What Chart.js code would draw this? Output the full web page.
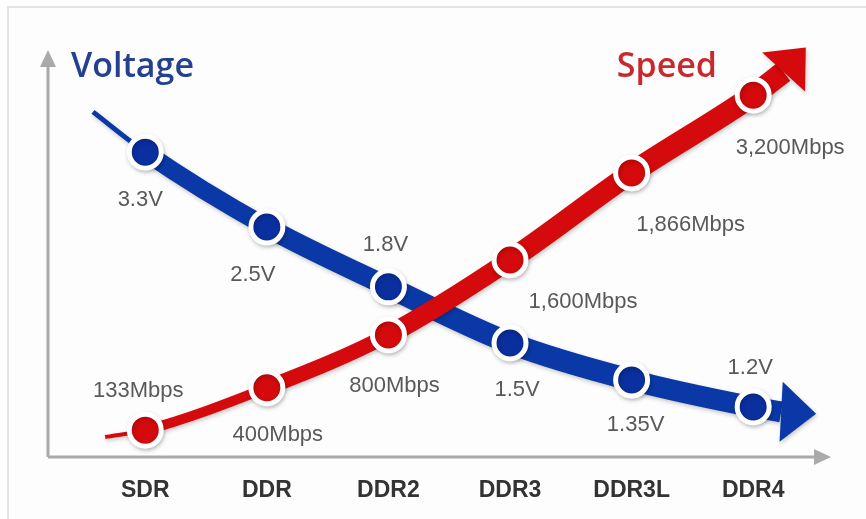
<!DOCTYPE html>
<html>
<head>
<meta charset="utf-8">
<script src="https://cdn.jsdelivr.net/npm/chart.js@4.4.1/dist/chart.umd.min.js"></script>
<style>
  html, body { margin: 0; padding: 0; background: #fff; }
  #wrap { position: relative; width: 866px; height: 519px; overflow: hidden; }
  #frame { position: absolute; left: 7px; top: 6px; width: 900px; height: 600px;
           border-left: 2px solid #e3e3e3; border-top: 2px solid #e3e3e3; background: #fdfdfd; }
  #myChart { position: absolute; left: 0; top: 0; }
</style>
</head>
<body>
<div id="wrap">
  <div id="frame"></div>
  <canvas id="myChart" width="866" height="519"></canvas>
</div>
<script>
const categories = ['SDR', 'DDR', 'DDR2', 'DDR3', 'DDR3L', 'DDR4'];
const voltageLabels = ['3.3V', '2.5V', '1.8V', '1.5V', '1.35V', '1.2V'];
const speedLabels = ['133Mbps', '400Mbps', '800Mbps', '1,600Mbps', '1,866Mbps', '3,200Mbps'];
// heights of the dots as drawn (no units: 0 = x axis, 100 = tip of the y axis)
const voltageLevels = [74.9, 56.5, 41.8, 28.0, 18.9, 12.3];
const speedLevels = [6.6, 17.0, 30.0, 48.4, 69.8, 88.9];
// start of each ribbon and base of its arrow head [x, level]
const voltageTail = [-0.43, 84.8];
const voltageHead = [5.23, 11.1];
const speedTail = [-0.33, 4.9];
const speedHead = [5.25, 94.6];

function buildPoints(levels, labels, tail, head) {
    let pts = [{x: tail[0], y: tail[1]}];
    levels.forEach((v, i) => pts.push({x: i, y: v, label: labels[i]}));
    pts.push({x: head[0], y: head[1]});
    return pts;
}

const ctx = document.getElementById('myChart');

const decor = {
    id: 'decor',
    beforeDatasetsDraw(chart) {
        const c = chart.ctx, a = chart.chartArea;
        c.save();
        c.strokeStyle = '#aaaaaa';
        c.fillStyle = '#aaaaaa';
        c.lineWidth = 3;
        c.beginPath();
        c.moveTo(a.left, a.bottom);
        c.lineTo(a.left, a.top + 14);
        c.moveTo(a.left, a.bottom);
        c.lineTo(a.right - 14, a.bottom);
        c.stroke();
        c.beginPath();
        c.moveTo(a.left, a.top);
        c.lineTo(a.left - 8, a.top + 17);
        c.lineTo(a.left + 8, a.top + 17);
        c.closePath();
        c.moveTo(a.right, a.bottom);
        c.lineTo(a.right - 17, a.bottom - 8);
        c.lineTo(a.right - 17, a.bottom + 8);
        c.closePath();
        c.fill();
        // series names
        c.font = '600 34px "Open Sans", sans-serif';
        c.textBaseline = 'middle';
        c.textAlign = 'left';
        c.fillStyle = '#24408f';
        c.fillText(chart.data.datasets[1].label, a.left + 23, a.top + 17);
        c.textAlign = 'right';
        c.fillStyle = '#c8282e';
        c.fillText(chart.data.datasets[0].label, a.right - 114, a.top + 17);
        c.restore();
    },
    beforeDatasetDraw(chart) {
        const c = chart.ctx;
        c.save();
        c.shadowColor = 'rgba(0,0,0,0.22)';
        c.shadowBlur = 4;
        c.shadowOffsetX = 1;
        c.shadowOffsetY = 2;
    },
    afterDatasetDraw(chart, args) {
        const c = chart.ctx;
        const pts = args.meta.data;
        const ds = chart.data.datasets[args.index];
        const end = pts[pts.length - 1], prev = pts[pts.length - 2];
        const ang = Math.atan2(end.y - prev.y, end.x - prev.x) + (ds.headTurn || 0);
        const len = ds.headLength, half = ds.headHalf;
        c.fillStyle = ds.borderColor;
        c.beginPath();
        c.moveTo(end.x + Math.cos(ang) * len, end.y + Math.sin(ang) * len);
        c.lineTo(end.x - Math.sin(ang) * half, end.y + Math.cos(ang) * half);
        c.lineTo(end.x + Math.sin(ang) * half, end.y - Math.cos(ang) * half);
        c.closePath();
        c.fill();
        c.restore();
    },
    afterDatasetsDraw(chart) {
        const c = chart.ctx;
        c.save();
        c.font = '22px "Liberation Sans", Arial, sans-serif';
        c.fillStyle = '#595959';
        c.textAlign = 'center';
        c.textBaseline = 'middle';
        chart.data.datasets.forEach((ds, di) => {
            const pts = chart.getDatasetMeta(di).data;
            let k = 0;
            ds.data.forEach((d, i) => {
                if (!d.label) return;
                const off = ds.labelOffsets[k++];
                c.fillText(d.label, pts[i].x + off[0], pts[i].y + off[1]);
            });
        });
        c.restore();
    }
};

new Chart(ctx, {
    type: 'line',
    data: {
        datasets: [{
            label: 'Speed',
            data: buildPoints(speedLevels, speedLabels, speedTail, speedHead),
            borderColor: '#d40a0c',
            pointBackgroundColor: '#d40a0c',
            pointBorderColor: '#ffffff',
            segment: { borderWidth: c => [4, 10, 15, 19, 21, 22, 22][c.p0DataIndex] },
            labelOffsets: [[-7, -39], [11, 47], [6, 51], [73, 42], [59, 52], [37, 53]],
            headLength: 33, headHalf: 29, headTurn: -0.18
        }, {
            label: 'Voltage',
            data: buildPoints(voltageLevels, voltageLabels, voltageTail, voltageHead),
            borderColor: '#0a38a6',
            pointBackgroundColor: '#0a2f9e',
            pointBorderColor: '#ffffff',
            segment: { borderWidth: c => [5, 18, 20, 22, 22, 21, 21][c.p0DataIndex] },
            labelOffsets: [[-5, 48], [-14, 48], [-3, -42], [7, 47], [4, 45], [-3, -39]],
            headLength: 35, headHalf: 30, headTurn: -0.12
        }]
    },
    options: {
        responsive: false,
        animation: false,
        events: [],
        clip: false,
        layout: { padding: { left: 48, right: 35, top: 50, bottom: 0 } },
        elements: {
            line: { cubicInterpolationMode: 'monotone', borderWidth: 20 },
            point: {
                radius: c => (c.raw && c.raw.label) ? 16 : 0,
                borderWidth: 5
            }
        },
        plugins: { legend: { display: false }, tooltip: { enabled: false } },
        scales: {
            x: {
                type: 'linear',
                min: -0.8,
                max: 5.64,
                grid: { display: false, drawTicks: false },
                border: { display: false },
                afterBuildTicks: s => { s.ticks = categories.map((c, i) => ({ value: i })); },
                afterFit: s => { s.height = 62; },
                ticks: {
                    padding: 20,
                    color: '#333333',
                    font: { family: '"Liberation Sans", Arial, sans-serif', size: 23, weight: 'bold' },
                    callback: v => categories[v]
                }
            },
            y: { display: false, min: 0, max: 100 }
        }
    },
    plugins: [decor]
});
</script>
</body>
</html>
